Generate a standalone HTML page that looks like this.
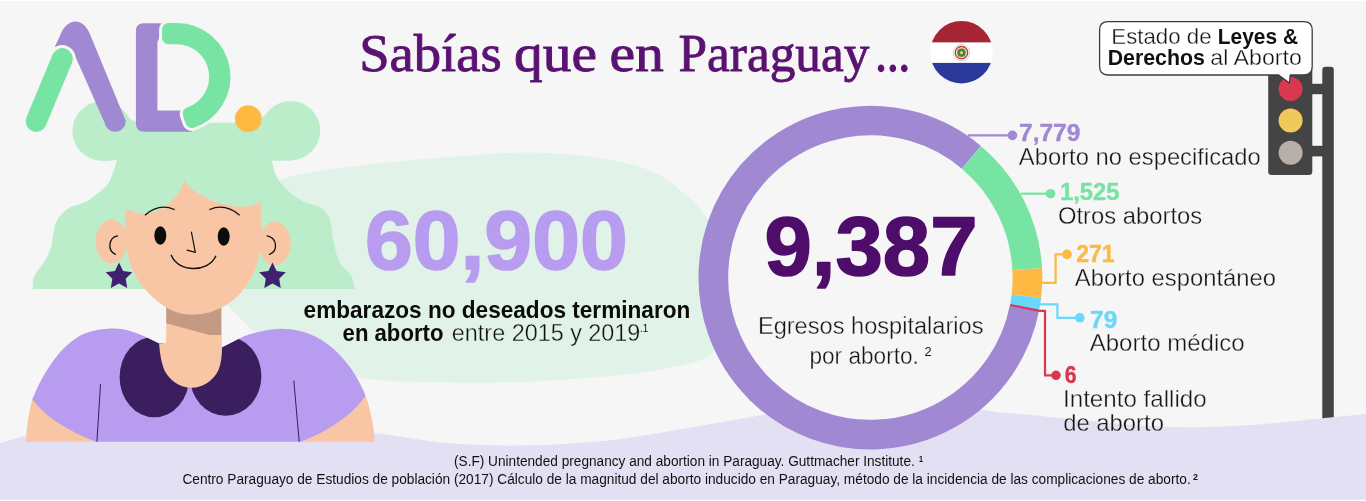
<!DOCTYPE html>
<html lang="es"><head><meta charset="utf-8"><title>Sab&iacute;as que en Paraguay...</title>
<style>
html,body{margin:0;padding:0;background:#ffffff;}
body{width:1366px;height:501px;overflow:hidden;font-family:"Liberation Sans",sans-serif;}
svg{display:block;position:absolute;left:0;top:0;will-change:transform;}
text{font-family:"Liberation Sans",sans-serif;}
.serif{font-family:"Liberation Serif",serif;}
.b{font-weight:bold;}
</style></head><body>
<svg width="1366" height="501" viewBox="0 0 1366 501">
<rect x="0" y="1" width="1366" height="498.8" fill="#f6f6f6"/>
<path d="M1322.3,430 L1322.3,69.8 Q1322.3,66.8 1325.3,66.8 L1330.8,66.8 Q1333.8,66.8 1333.8,69.8 L1333.8,430 Z" fill="#444444"/>
<path d="M-40.0,452.0 C-33.3,450.5 -11.0,445.6 0.0,442.9 C11.0,440.2 16.0,437.8 26.0,435.7 C36.0,433.6 44.3,431.6 60.0,430.0 C75.7,428.4 96.7,427.0 120.0,426.0 C143.3,425.0 170.0,423.8 200.0,424.0 C230.0,424.2 271.0,425.5 300.0,427.0 C329.0,428.5 350.7,430.4 374.0,433.0 C397.3,435.6 422.3,440.4 440.0,442.4 C457.7,444.3 466.8,444.2 480.0,444.7 C493.2,445.2 504.0,445.8 519.0,445.6 C534.0,445.4 552.4,444.7 570.0,443.5 C587.6,442.3 602.2,441.5 624.5,438.5 C646.8,435.5 680.4,429.2 703.6,425.3 C726.9,421.4 744.6,417.9 764.0,414.8 C783.4,411.8 800.7,408.8 820.0,407.0 C839.3,405.2 860.0,404.2 880.0,404.0 C900.0,403.8 923.0,405.1 940.0,406.0 C957.0,406.9 972.0,408.6 982.0,409.7 C992.0,410.8 988.7,411.1 1000.0,412.3 C1011.3,413.5 1033.3,415.4 1050.0,417.0 C1066.7,418.6 1083.3,420.5 1100.0,422.0 C1116.7,423.5 1134.8,425.1 1150.0,426.0 C1165.2,426.9 1176.0,427.3 1191.0,427.3 C1206.0,427.3 1225.2,426.6 1240.0,425.8 C1254.8,425.0 1265.0,423.9 1280.0,422.5 C1295.0,421.1 1315.7,418.9 1330.0,417.5 C1344.3,416.1 1354.3,415.1 1366.0,414.0 C1377.7,412.9 1394.3,411.5 1400.0,411.0 L1400,499.8 L-40,499.8 Z" fill="#e3e0f3"/>
<path d="M208.0,262.0 C210.3,248.3 220.0,225.7 232.0,212.0 C244.0,198.3 258.7,187.8 280.0,180.0 C301.3,172.2 331.7,169.3 360.0,165.5 C388.3,161.7 421.7,159.2 450.0,157.0 C478.3,154.8 505.0,152.3 530.0,152.5 C555.0,152.7 579.7,155.1 600.0,158.2 C620.3,161.3 637.3,164.7 652.0,171.2 C666.7,177.7 679.2,189.3 688.3,197.1 C697.4,204.9 701.4,209.1 706.5,217.9 C711.6,226.7 716.1,238.0 719.0,250.0 C721.9,262.0 723.7,276.7 724.0,290.0 C724.3,303.3 722.6,319.9 721.0,330.0 C719.4,340.1 718.0,345.3 714.3,350.4 C710.6,355.5 709.1,357.3 698.7,360.8 C688.3,364.3 666.8,368.7 652.0,371.2 C637.2,373.7 630.7,374.2 610.0,376.0 C589.3,377.8 555.3,380.6 528.0,381.7 C500.7,382.8 474.0,383.2 446.0,382.5 C418.0,381.8 384.8,382.5 360.0,377.6 C335.2,372.7 312.0,359.0 297.0,353.0 C282.0,347.0 277.2,345.2 270.0,341.5 C262.8,337.8 259.2,335.3 253.9,331.0 C248.6,326.7 242.7,320.2 238.3,315.9 C233.9,311.6 230.9,308.8 227.5,305.2 C224.1,301.6 221.2,301.2 218.0,294.0 C214.8,286.8 205.7,275.7 208.0,262.0 Z" fill="#e1f2e8"/>
<g id="character">
<path d="M122,148 L124,123.5 L266,122.5 L268,150  C268.6,151.8 270.5,156.7 271.8,160.8 C273.1,164.9 273.5,170.1 275.8,174.8 C278.1,179.5 281.5,184.5 285.8,188.8 C290.1,193.1 296.2,197.6 301.8,200.7 C307.4,203.8 315.1,204.2 319.7,207.2 C324.3,210.2 327.4,212.8 329.7,218.7 C332.0,224.6 332.0,235.3 333.7,242.6 C335.4,249.9 336.8,257.2 339.7,262.6 C342.6,268.0 348.3,270.6 350.8,275.0 C353.3,279.4 354.1,286.7 354.8,289.0 L32.8,289  C33.0,286.9 32.1,281.0 34.0,276.6 C35.9,272.2 41.0,267.6 43.9,262.6 C46.8,257.6 49.1,253.2 51.1,246.6 C53.1,239.9 53.1,229.0 55.9,222.7 C58.7,216.4 62.6,212.4 67.9,208.7 C73.2,205.0 81.4,204.6 87.8,200.7 C94.2,196.8 102.4,189.9 106.5,185.5 C110.6,181.1 111.0,177.4 112.5,174.0 C114.0,170.6 114.7,167.7 115.5,165.0 C116.3,162.3 116.4,160.8 117.5,158.0 C118.6,155.2 121.2,149.7 122.0,148.0 Z" fill="#bcedca"/>
<circle cx="102.2" cy="131" r="29.8" fill="#bcedca"/>
<circle cx="290.6" cy="130.6" r="29.6" fill="#bcedca"/>
<path d="M98,157 Q101,161 106,161 L116.8,160 L119,150 Z" fill="#bcedca"/>
<path d="M297,157 Q294,160.8 289,160.8 L271.6,160.8 L268,150 Z" fill="#bcedca"/>
<path d="M122,110 Q131,123.5 146,123.5 L122,135 Z" fill="#bcedca"/>
<path d="M270,109 Q261,122.5 246,122.8 L270,135 Z" fill="#bcedca"/>
<rect x="166.3" y="295" width="55" height="60" fill="#f9c6a5"/>
<polygon points="166.3,300 221.3,300 221.3,338.2 166.3,323.2" fill="#c49a82"/>
<path d="M32.3,399.3 C29,412 26.2,428 26.2,441.7 L100,441.7 L60,410 Z" fill="#f9c6a5"/>
<path d="M365.6,395.7 C370,408 374.6,428 374.6,441.7 L298,441.7 L340,410 Z" fill="#f9c6a5"/>
<path d="M159,343.6 L144.7,336.5 C138,333.5 127,328.5 114,328.5 C103,328.5 91,330.5 81.8,334.7 C72,340 63,348 56.7,356.2 C46,370 38,385 32.3,399.3 C39,408 48,416.5 59.9,424 C71,431 83,437 96.2,441.7 L300.2,441.7 C313,437.5 326,430.5 338.6,422 C349,415 358,406 365.6,395.7 C360,382 353,370 344,359.8 C336,350 326,342 315.3,336.5 C305,331.5 293,328.8 281,328.8 C269,329 254,332.5 243.5,336.5 L222,347.5 Z" fill="#b79cf0"/>
<line x1="100.5" y1="384.2" x2="96.9" y2="441.7" stroke="#3a1e5e" stroke-width="1"/>
<line x1="293.8" y1="380.6" x2="299.2" y2="441.7" stroke="#3a1e5e" stroke-width="1"/>
<defs><clipPath id="sc"><path d="M159,343.6 L144.7,336.5 C138,333.5 127,328.5 114,328.5 C103,328.5 91,330.5 81.8,334.7 C72,340 63,348 56.7,356.2 C46,370 38,385 32.3,399.3 C39,408 48,416.5 59.9,424 C71,431 83,437 96.2,441.7 L300.2,441.7 C313,437.5 326,430.5 338.6,422 C349,415 358,406 365.6,395.7 C360,382 353,370 344,359.8 C336,350 326,342 315.3,336.5 C305,331.5 293,328.8 281,328.8 C269,329 254,332.5 243.5,336.5 L222,347.5 Z"/></clipPath></defs>
<g clip-path="url(#sc)" fill="#3a1e5e">
<ellipse cx="154.4" cy="377" rx="34.8" ry="40.2"/>
<ellipse cx="225.6" cy="376" rx="35.8" ry="39.8"/>
</g>
<path d="M159.1,343.5 C160,356 162,364 164.5,370.6 C170,381 180,387.8 191.4,387.8 C203,387.8 213,381 218.3,370.6 C221,364 222,356 222,347.5 L221.3,335 L166.3,335 L166.3,343.9 Z" fill="#f9c6a5"/>
<ellipse cx="111.5" cy="241.5" rx="15.8" ry="22" fill="#f9c6a5"/>
<ellipse cx="274.8" cy="243.5" rx="15.8" ry="22" fill="#f9c6a5"/>
<path d="M126.4,172 L125,230 C125.2,238 125.8,243 126.4,247.8 C127.5,254 129,260 130.9,265.8 C134,274 138,280.5 142.9,286.8 C149.5,295 157.5,302.5 166.9,307.7 C175,312.6 184,314.8 193.8,314.6 C204,314.6 214.5,311.6 223.7,306.6 C233,301 241.5,293.5 247.7,283.8 C252.5,276.5 256,268.5 258.2,259.8 C260.3,250 261,240 261.2,229.9 L260.3,172 Z" fill="#f9c6a5"/>
<path d="M124,208 L126.4,208.9 C133,212 139.5,213.6 145.9,213.4 C152.5,213 158.5,210.8 163.9,207.4 C169,204 172.8,200.5 175.8,197 C179.5,192.5 182,187 184.2,180.5 C187.5,185.5 191.5,189 196.8,192.5 C202.5,196.2 208.5,199 214.8,201.4 C221.5,203.8 228.5,205.6 235.7,206.5 C241,207 246,206.9 250.7,205.9 C254.5,205 257.5,203.8 260.3,202.3 L263,201.3 L263,160 L124,160 Z" fill="#bcedca"/>
<ellipse cx="160.3" cy="235.5" rx="6" ry="9.2" fill="#0c0c0c"/>
<ellipse cx="223.7" cy="236.5" rx="6" ry="9.2" fill="#0c0c0c"/>
<path d="M145.3,214.9 Q159,203 174.3,209.5" fill="none" stroke="#111" stroke-width="1.3" stroke-linecap="round"/>
<path d="M209.7,209.5 Q225,203 239.3,214.9" fill="none" stroke="#111" stroke-width="1.3" stroke-linecap="round"/>
<path d="M191.4,232 L195.3,252.3 L187.2,250.2" fill="none" stroke="#111" stroke-width="1.2" stroke-linecap="round" stroke-linejoin="round"/>
<path d="M171.3,255.3 C178,272.5 208,273 215.7,256.2" fill="none" stroke="#111" stroke-width="1.4" stroke-linecap="round"/>
<path d="M117.5,235.9 C108.5,237.5 107,250.5 115.4,254.4" fill="none" stroke="#111" stroke-width="1.3" stroke-linecap="round"/>
<path d="M267.2,235.9 C277,238 278.5,250.5 269.6,254.4" fill="none" stroke="#111" stroke-width="1.3" stroke-linecap="round"/>
<polygon points="119.0,262.6 123.1,270.9 132.3,272.3 125.7,278.8 127.2,287.9 119.0,283.6 110.8,287.9 112.3,278.8 105.7,272.3 114.9,270.9" fill="#3f2170"/>
<polygon points="272.5,262.6 276.6,270.9 285.8,272.3 279.2,278.8 280.7,287.9 272.5,283.6 264.3,287.9 265.8,278.8 259.2,272.3 268.4,270.9" fill="#3f2170"/>
</g>
<g id="logo" fill="none" stroke-linecap="round" stroke-linejoin="round">
<path d="M52.5,52 L61.2,33 C63,28.5 68,21.5 75.6,21.5 C83,21.5 87.5,28.5 89.5,33 L125.7,120.8 A10.65,10.65 0 0 1 104.5,122.6 L75.6,56.9 L68,62 Z" fill="#a088d2" stroke="none"/>
<path d="M62.3,58.6 L36.2,121.4" stroke="#f6f6f6" stroke-width="27"/>
<path d="M62.3,58.6 L36.2,121.4" stroke="#78e4a4" stroke-width="21"/>
<path d="M143.6,23.3 L166,23.3 L157.4,42 L157.4,110.4 L192,110.4 L192,131.8 L144.5,131.8 Q135.9,131.8 135.9,123.2 L135.9,31 Q135.9,23.3 143.6,23.3 Z" fill="#a088d2" stroke="none"/>
<path d="M168.60,29.45 L176.70,29.45 A47.25,47.25 0 0 1 191.80,121.47 L189.15,113.61 A38.95,38.95 0 0 0 176.70,37.75 L168.60,37.75 Z" fill="#f6f6f6" stroke="#f6f6f6" stroke-width="19.0"/>
<path d="M168.60,29.45 L176.70,29.45 A47.25,47.25 0 0 1 191.80,121.47 L189.15,113.61 A38.95,38.95 0 0 0 176.70,37.75 L168.60,37.75 Z" fill="#78e4a4" stroke="#78e4a4" stroke-width="13.0"/>
</g>
<circle cx="248.3" cy="118.7" r="13.4" fill="#fdb942"/>
<defs><clipPath id="fc"><circle cx="961.5" cy="52.2" r="31.2"/></clipPath></defs>
<g clip-path="url(#fc)">
<rect x="925" y="20" width="75" height="22.6" fill="#a52535"/>
<rect x="925" y="42.6" width="75" height="20.3" fill="#ffffff"/>
<rect x="925" y="62.9" width="75" height="22" fill="#2b3a9a"/>
</g>
<circle cx="961.5" cy="52.7" r="8.1" fill="#fff" stroke="#8a8a8a" stroke-width="0.6" stroke-dasharray="1.2 0.6"/>
<circle cx="961.5" cy="52.7" r="6.2" fill="none" stroke="#c0392f" stroke-width="1.3"/>
<circle cx="961.5" cy="52.7" r="5" fill="#e2b84e"/>
<circle cx="961.5" cy="52.7" r="4" fill="#3f7f5a"/>
<circle cx="961.5" cy="52.7" r="1.6" fill="#e8cf5a"/>
<g id="traffic">
<rect x="1305" y="83.8" width="22" height="10.4" fill="#444444"/>
<rect x="1305" y="145.8" width="22" height="10.6" fill="#444444"/>
<rect x="1268.2" y="66" width="44.1" height="108.9" rx="3.5" ry="3.5" fill="#444444"/>
<circle cx="1290.6" cy="89" r="12" fill="#d9384f"/>
<circle cx="1290.6" cy="120.6" r="12" fill="#f0c95a"/>
<circle cx="1290.6" cy="152.8" r="12" fill="#b8b0a8"/>
</g>
<path d="M1108,21.6 L1303.8,21.6 Q1312.2,21.6 1312.2,30 L1312.2,66.6 Q1312.2,75 1303.8,75 L1290.2,75 L1289.4,83 L1278.6,75 L1108,75 Q1099.6,75 1099.6,66.6 L1099.6,30 Q1099.6,21.6 1108,21.6 Z" fill="#ffffff" stroke="#3c3c3c" stroke-width="1.3" stroke-linejoin="round"/>
<circle cx="870.4" cy="277.6" r="150" fill="#f6f6f6"/>
<g fill="none" stroke-width="29.7">
<path d="M1024.62,307.30 A157.05,157.05 0 1 1 971.35,157.29" stroke="#a088d2"/>
<path d="M971.35,157.29 A157.05,157.05 0 0 1 1027.22,269.11" stroke="#78e4a4"/>
<path d="M1027.22,269.11 A157.05,157.05 0 0 1 1026.35,296.20" stroke="#fdb942"/>
<path d="M1026.35,296.20 A157.05,157.05 0 0 1 1024.62,307.30" stroke="#6ad8fc"/>
</g>
<g fill="none" stroke-width="2.2" stroke-linejoin="miter">
<path d="M968,135.4 L1012.4,135.4" stroke="#a088d2"/>
<path d="M1021,193.7 L1050.5,193.7" stroke="#78e4a4"/>
<path d="M1041,282.8 L1055.6,282.8 L1055.6,254.4 L1067,254.4" stroke="#fdb942"/>
<path d="M1040,304.4 L1057.4,304.4 L1057.4,317.8 L1079.8,317.8" stroke="#6ad8fc"/>
<path d="M1010.3,305 L1039.8,310.9 L1045,310.9 L1045,375.3 L1056,375.3" stroke="#d9384f"/>
</g>
<circle cx="1012.4" cy="135.4" r="4.8" fill="#a088d2"/>
<circle cx="1050.5" cy="193.7" r="4.8" fill="#78e4a4"/>
<circle cx="1067" cy="254.4" r="4.8" fill="#fdb942"/>
<circle cx="1079.8" cy="317.8" r="4.8" fill="#6ad8fc"/>
<circle cx="1056" cy="375.3" r="4.8" fill="#d9384f"/>
<text class="serif" x="359.15" y="70.5" font-size="52" fill="#5a1272" stroke="#5a1272" stroke-width="0.90" stroke-linejoin="round" textLength="142.57" lengthAdjust="spacingAndGlyphs">Sab&iacute;as</text>
<text class="serif" x="514.00" y="70.5" font-size="52" fill="#5a1272" stroke="#5a1272" stroke-width="0.90" stroke-linejoin="round" textLength="82.92" lengthAdjust="spacingAndGlyphs">que</text>
<text class="serif" x="609.40" y="70.5" font-size="52" fill="#5a1272" stroke="#5a1272" stroke-width="0.90" stroke-linejoin="round" textLength="54.51" lengthAdjust="spacingAndGlyphs">en</text>
<text class="serif" x="678.50" y="70.5" font-size="52" fill="#5a1272" stroke="#5a1272" stroke-width="0.90" stroke-linejoin="round" textLength="190.91" lengthAdjust="spacingAndGlyphs">Paraguay</text>
<text class="serif" x="875.30" y="70.5" font-size="52" fill="#5a1272" stroke="#5a1272" stroke-width="1.30" stroke-linejoin="round" textLength="34.83" lengthAdjust="spacingAndGlyphs">...</text>
<text x="1111.30" y="44.4" font-size="22.5" fill="#111" stroke="#ffffff" stroke-width="0.35" textLength="100.23" lengthAdjust="spacingAndGlyphs">Estado de</text>
<text class="b" x="1217.85" y="44.4" font-size="22.5" fill="#111" textLength="80.21" lengthAdjust="spacingAndGlyphs">Leyes &amp;</text>
<text class="b" x="1107.70" y="65.0" font-size="22.5" fill="#111" textLength="97.22" lengthAdjust="spacingAndGlyphs">Derechos</text>
<text x="1210.30" y="65.0" font-size="22.5" fill="#111" stroke="#ffffff" stroke-width="0.35" textLength="91.63" lengthAdjust="spacingAndGlyphs">al Aborto</text>
<text class="b" x="1019.05" y="141.1" font-size="24.6" fill="#a088d2" stroke="#a088d2" stroke-width="0.40" stroke-linejoin="round" textLength="61.34" lengthAdjust="spacingAndGlyphs">7,779</text>
<text x="1018.85" y="165.0" font-size="23.8" fill="#161616" stroke="#f6f6f6" stroke-width="0.35" textLength="241.90" lengthAdjust="spacingAndGlyphs">Aborto no especificado</text>
<text class="b" x="1060.05" y="200.0" font-size="24.6" fill="#78e4a4" stroke="#78e4a4" stroke-width="0.40" stroke-linejoin="round" textLength="59.32" lengthAdjust="spacingAndGlyphs">1,525</text>
<text x="1057.90" y="223.6" font-size="23.8" fill="#161616" stroke="#f6f6f6" stroke-width="0.35" textLength="144.31" lengthAdjust="spacingAndGlyphs">Otros abortos</text>
<text class="b" x="1076.20" y="261.9" font-size="24.6" fill="#fdb942" stroke="#fdb942" stroke-width="0.40" stroke-linejoin="round" textLength="38.53" lengthAdjust="spacingAndGlyphs">271</text>
<text x="1074.85" y="285.8" font-size="23.8" fill="#161616" stroke="#f6f6f6" stroke-width="0.35" textLength="201.10" lengthAdjust="spacingAndGlyphs">Aborto espont&aacute;neo</text>
<text class="b" x="1090.10" y="327.8" font-size="24.6" fill="#6ad8fc" stroke="#6ad8fc" stroke-width="0.40" stroke-linejoin="round" textLength="27.16" lengthAdjust="spacingAndGlyphs">79</text>
<text x="1089.65" y="351.4" font-size="23.8" fill="#161616" stroke="#f6f6f6" stroke-width="0.35" textLength="155.10" lengthAdjust="spacingAndGlyphs">Aborto m&eacute;dico</text>
<text class="b" x="1064.80" y="382.5" font-size="24.6" fill="#d9384f" stroke="#d9384f" stroke-width="0.40" stroke-linejoin="round" textLength="11.83" lengthAdjust="spacingAndGlyphs">6</text>
<text x="1063.00" y="406.5" font-size="23.8" fill="#161616" stroke="#f6f6f6" stroke-width="0.35" textLength="143.63" lengthAdjust="spacingAndGlyphs">Intento fallido</text>
<text x="1063.20" y="430.5" font-size="23.8" fill="#161616" stroke="#f6f6f6" stroke-width="0.30" textLength="100.71" lengthAdjust="spacingAndGlyphs">de aborto</text>
<text class="b" x="764.45" y="275.4" font-size="83.2" fill="#4f0d6b" stroke="#4f0d6b" stroke-width="1.60" stroke-linejoin="round" textLength="213.05" lengthAdjust="spacingAndGlyphs">9,387</text>
<text x="757.90" y="333.8" font-size="23.5" fill="#161616" stroke="#f6f6f6" stroke-width="0.35" textLength="225.62" lengthAdjust="spacingAndGlyphs">Egresos hospitalarios</text>
<text x="809.45" y="363.7" font-size="23.5" fill="#161616" stroke="#f6f6f6" stroke-width="0.35" textLength="109.45" lengthAdjust="spacingAndGlyphs">por aborto.</text>
<text x="924.60" y="355.7" font-size="13" fill="#161616" textLength="7.14" lengthAdjust="spacingAndGlyphs">2</text>
<text class="b" x="364.95" y="269.3" font-size="83.2" fill="#b79cf0" stroke="#b79cf0" stroke-width="1.60" stroke-linejoin="round" textLength="262.76" lengthAdjust="spacingAndGlyphs">60,900</text>
<text class="b" x="303.60" y="317.6" font-size="24.5" fill="#0a0a0a" textLength="386.70" lengthAdjust="spacingAndGlyphs">embarazos no deseados terminaron</text>
<text class="b" x="342.60" y="340.6" font-size="24.5" fill="#0a0a0a" textLength="100.82" lengthAdjust="spacingAndGlyphs">en aborto</text>
<text x="451.85" y="340.6" font-size="24.5" fill="#111" stroke="#e1f2e8" stroke-width="0.35" textLength="188.51" lengthAdjust="spacingAndGlyphs">entre 2015 y 2019</text>
<text x="640.10" y="332.0" font-size="11" fill="#0a0a0a" textLength="8.22" lengthAdjust="spacingAndGlyphs">.1</text>
<text x="454.00" y="465.6" font-size="14" fill="#111" textLength="460.80" lengthAdjust="spacingAndGlyphs">(S.F) Unintended pregnancy and abortion in Paraguay. Guttmacher Institute.</text>
<text class="b" x="919.05" y="462.0" font-size="8.5" fill="#111" textLength="4.00" lengthAdjust="spacingAndGlyphs">1</text>
<text x="182.40" y="483.8" font-size="14" fill="#111" textLength="1008.30" lengthAdjust="spacingAndGlyphs">Centro Paraguayo de Estudios de poblaci&oacute;n (2017) C&aacute;lculo de la magnitud del aborto inducido en Paraguay, m&eacute;todo de la incidencia de las complicaciones de aborto.</text>
<text class="b" x="1193.00" y="480.2" font-size="8.5" fill="#111" textLength="5.00" lengthAdjust="spacingAndGlyphs">2</text>
</svg>
</body></html>
